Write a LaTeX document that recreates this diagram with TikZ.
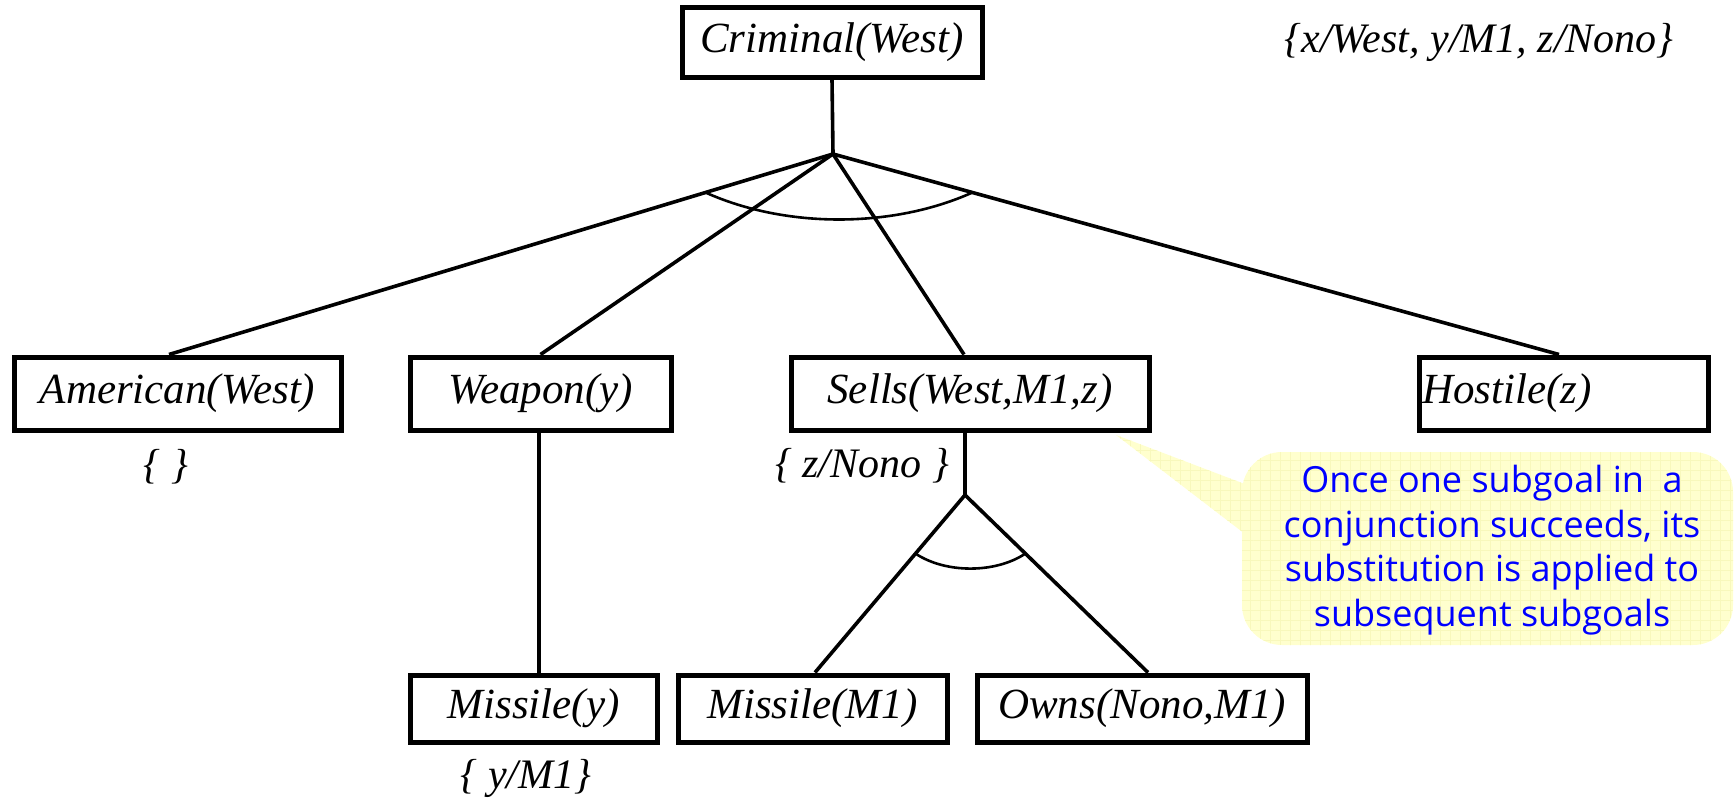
\documentclass[tikz,border=0pt]{standalone}
\usepackage{fontspec}
\setmainfont{Liberation Serif}
\newfontfamily\calloutfont{Open Sans}
\usetikzlibrary{calc}
\definecolor{callfill}{RGB}{255,255,206}
\definecolor{callgrid}{RGB}{248,248,188}
\definecolor{calltext}{RGB}{0,0,255}
\begin{document}
\begin{tikzpicture}[x=0.5pt,y=-0.5pt,
  goal/.style={draw, line width=2.5pt, inner sep=0pt, font=\fontsize{21.5pt}{24pt}\selectfont\itshape},
  lbl/.style={inner sep=0pt, font=\fontsize{21pt}{24pt}\selectfont\itshape},
  conn/.style={line width=1.8pt},
  andarc/.style={line width=1.3pt},
  notetext/.style={inner sep=0pt, align=center, text=calltext, font=\calloutfont\fontsize{18pt}{22.35pt}\selectfont}]
\useasboundingbox (0,0) rectangle (1735,803);

% callout background
\begin{scope}
  \clip[rounded corners=20pt] (1242,452) rectangle (1733,645);
  \fill[callfill] (1200,440) rectangle (1735,660);
  \draw[callgrid, line width=0.4pt, step=5pt] (1200,440) grid (1735,660);
\end{scope}
\begin{scope}
  \clip (1116,435) -- (1262,490.6) -- (1262,547) -- cycle;
  \fill[callfill] (1100,420) rectangle (1270,560);
  \draw[callgrid, line width=0.4pt, step=5pt] (1100,420) grid (1270,560);
\end{scope}
\node[notetext] (note) at (1492,550) {Once one subgoal in\ \ a\\conjunction succeeds, its\\substitution is applied to\\subsequent subgoals};

% goal boxes
\node[goal, minimum width=150pt, minimum height=35pt] (crim) at (832,42) {Criminal(West)};
\node[goal, minimum width=163.5pt, minimum height=36.5pt] (amer) at (177.5,393.5) {American(West)};
\node[goal, minimum width=130.5pt, minimum height=36.5pt] (weap) at (540.5,393.5) {Weapon(y)};
\node[goal, minimum width=179pt, minimum height=36.5pt] (sells) at (970,393.5) {Sells(West,M1,z)};
\node[goal, minimum width=144.5pt, minimum height=36.5pt, text width=141.5pt, inner xsep=1.5pt, align=left] (host) at (1563.5,393.5) {Hostile(z)};
\node[goal, minimum width=123.5pt, minimum height=33.5pt] (missy) at (533.5,708.5) {Missile(y)};
\node[goal, minimum width=134.5pt, minimum height=33.5pt] (missm) at (812.5,708.5) {Missile(M1)};
\node[goal, minimum width=165pt, minimum height=33.5pt] (owns) at (1142,708.5) {Owns(Nono,M1)};

% substitution labels
\node[lbl, anchor=east] (subst) at (1674,42) {\{x/West, y/M1, z/Nono\}};
\node[lbl] (lamer) at (166,467) {\{ \}};
\node[lbl] (lsells) at (862,466) {\{ z/Nono \}};
\node[lbl] (lmissy) at (526,778) {\{ y/M1\}};

% top fan
\coordinate (j1) at (833,154);
\coordinate (amtop) at ([xshift=-4.25pt]amer.north);
\coordinate (sltop) at ([xshift=-3pt]sells.north);
\coordinate (hotop) at ([xshift=-2.25pt]host.north);
\draw[conn] (crim.south) -- (j1);
\draw[conn] (j1) -- (amtop);
\draw[conn] (j1) -- (weap.north);
\draw[conn] (j1) -- (sltop);
\draw[conn] (j1) -- (hotop);
\coordinate (a1) at ($(j1)!0.192!(amtop)$);
\coordinate (a2) at ($(j1)!0.192!(hotop)$);
\draw[andarc] (a1) .. controls ($(a1)+(80,36)$) and ($(a2)+(-80,36)$) .. (a2);

% weapon -> missile
\draw[conn] ([xshift=-0.75pt]weap.south) -- ([xshift=-0.75pt]weap.south |- missy.north);

% sells fan
\coordinate (j2) at (965,495);
\coordinate (mmtop) at ([xshift=1.25pt]missm.north);
\coordinate (owtop) at ([xshift=3pt]owns.north);
\draw[conn] ([xshift=-2.5pt]sells.south) -- (j2);
\draw[conn] (j2) -- (mmtop);
\draw[conn] (j2) -- (owtop);
\coordinate (b1) at ($(j2)!0.33!(mmtop)$);
\coordinate (b2) at ($(j2)!0.33!(owtop)$);
\draw[andarc] (b1) .. controls ($(b1)+(30,20)$) and ($(b2)+(-30,20)$) .. (b2);
\end{tikzpicture}
\end{document}
